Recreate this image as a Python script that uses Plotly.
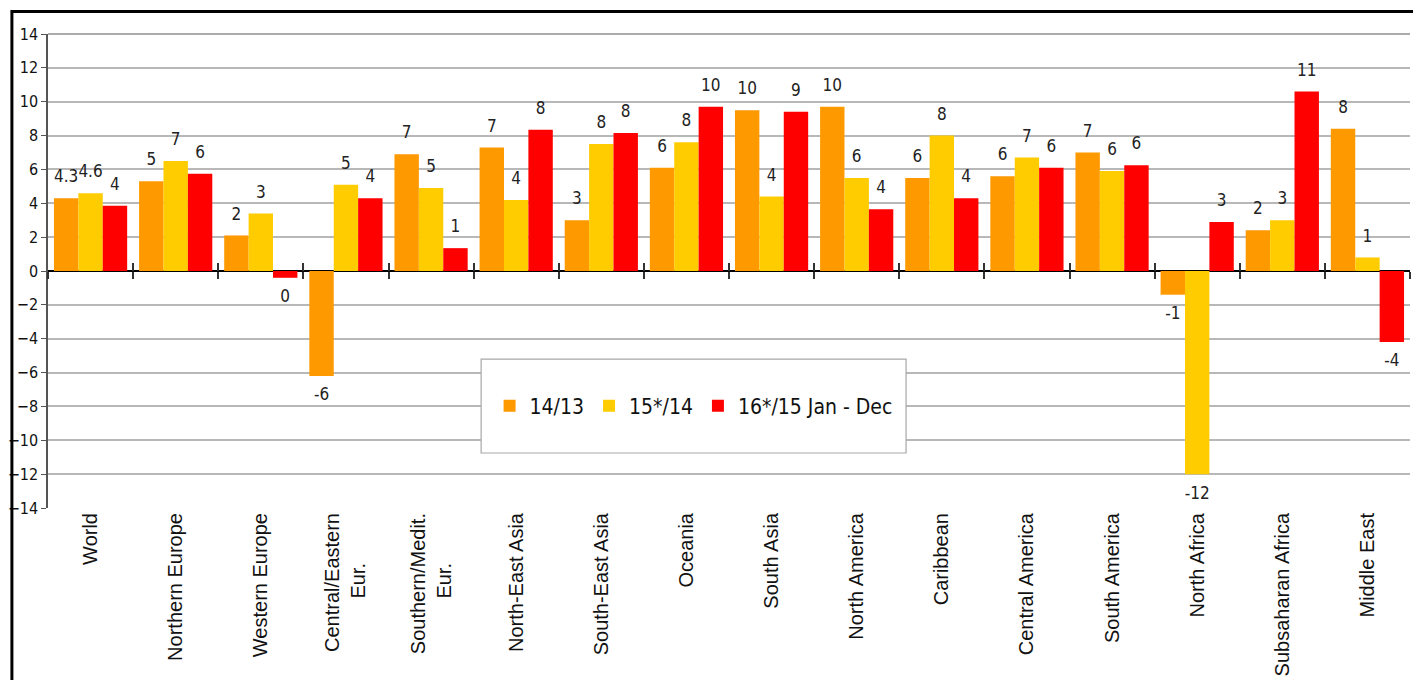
import plotly.graph_objects as go

PAD = "<span style='color:rgba(0,0,0,0)'>" + "." * 9 + "</span>"
categories = ["World", "Northern Europe", "Western Europe", "Central/Eastern<br>Eur." + PAD,
              "Southern/Medit.<br>Eur." + PAD, "North-East Asia", "South-East Asia", "Oceania",
              "South Asia", "North America", "Caribbean", "Central America",
              "South America", "North Africa", "Subsaharan Africa", "Middle East"]

series_names = ["14/13", "15*/14", "16*/15 Jan - Dec"]
series_colors = ["#FF9900", "#FFCC00", "#FF0000"]

s_14_13 = [4.3, 5.3, 2.1, -6.2, 6.9, 7.3, 3.0, 6.1, 9.5, 9.7, 5.5, 5.6, 7.0, -1.4, 2.4, 8.4]
s_15_14 = [4.6, 6.5, 3.4, 5.1, 4.9, 4.2, 7.5, 7.6, 4.4, 5.5, 8.0, 6.7, 5.9, -12.0, 3.0, 0.8]
s_16_15 = [3.85, 5.75, -0.4, 4.3, 1.35, 8.35, 8.15, 9.7, 9.4, 3.65, 4.3, 6.1, 6.25, 2.9, 10.6, -4.2]

lbl_14_13 = ["4.3", "5", "2", "-6", "7", "7", "3", "6", "10", "10", "6", "6", "7", "-1", "2", "8"]
lbl_15_14 = ["4.6", "7", "3", "5", "5", "4", "8", "8", "4", "6", "8", "7", "6", "-12", "3", "1"]
lbl_16_15 = ["4", "6", "0", "4", "1", "8", "8", "10", "9", "4", "4", "6", "6", "3", "11", "-4"]

y_ticks = list(range(-14, 15, 2))

NARROW = "Liberation Sans Narrow, DejaVu Sans Condensed, Arial Narrow, Liberation Sans, sans-serif"
REG = "Liberation Sans, Arial, sans-serif"

values = [s_14_13, s_15_14, s_16_15]
labels = [lbl_14_13, lbl_15_14, lbl_16_15]

fig = go.Figure()
for i in range(3):
    fig.add_trace(go.Bar(
        x=categories, y=values[i], name=series_names[i],
        marker=dict(color=series_colors[i], line=dict(width=0)),
        offsetgroup=str(i), alignmentgroup="a",
    ))
for i in range(3):
    fig.add_trace(go.Scatter(
        x=categories, y=values[i], text=labels[i], mode="markers+text",
        textposition=["top center" if v >= 0 else "bottom center" for v in values[i]],
        marker=dict(size=17, color="rgba(0,0,0,0)"),
        textfont=dict(family=NARROW, size=17, color="#222222"),
        offsetgroup=str(i), alignmentgroup="a",
        showlegend=False, hoverinfo="skip", cliponaxis=False,
    ))

# helper axes for the tick marks crossing the zero line
bounds = [k - 0.5 for k in range(len(categories) + 1)]
for ax in ("x2", "x3"):
    fig.add_trace(go.Scatter(x=[0], y=[0], xaxis=ax, yaxis="y", mode="markers",
                             marker=dict(opacity=0), showlegend=False, hoverinfo="skip"))

# page body has an 8px margin: figure is sized/offset to compensate
fig.update_layout(
    width=1413, height=672,
    margin=dict(l=40, r=11, t=26, b=172, autoexpand=False),
    paper_bgcolor="white", plot_bgcolor="white",
    barmode="group", bargap=0.14, bargroupgap=0,
    scattermode="group", scattergap=0.14,
    font=dict(family=REG, color="#111111"),
    showlegend=True,
    legend=dict(orientation="h", x=0.474, y=0.215, xanchor="center", yanchor="middle",
                font=dict(family=NARROW, size=21, color="#111111"),
                bgcolor="rgba(0,0,0,0)", borderwidth=0, itemwidth=30,
                traceorder="normal"),
    xaxis=dict(type="category", showgrid=False, showline=False, ticks="",
               tickangle=-90, tickfont=dict(family=REG, size=20, color="#111111"),
               range=[-0.5, 15.5], automargin=False),
    xaxis2=dict(overlaying="x", anchor="free", position=0.5, range=[-0.5, 15.5],
                tickvals=bounds, showticklabels=False, ticks="outside", ticklen=7,
                tickwidth=1.5, tickcolor="#333333", showgrid=False, showline=False,
                zeroline=False),
    xaxis3=dict(overlaying="x", anchor="free", position=0.5, range=[-0.5, 15.5],
                tickvals=bounds, showticklabels=False, ticks="inside", ticklen=8,
                tickwidth=1.5, tickcolor="#333333", showgrid=False, showline=False,
                zeroline=False),
    yaxis=dict(range=[-14, 14], tickvals=y_ticks, showgrid=True, gridcolor="#b8b8b8",
               gridwidth=1.5, zeroline=True, zerolinecolor="#000000", zerolinewidth=1.5,
               showline=True, linecolor="#555555", linewidth=1.5, ticks="outside",
               ticklen=5, tickcolor="#555555", automargin=False,
               tickfont=dict(family=NARROW, size=16, color="#111111")),
    shapes=[
        dict(type="rect", xref="paper", yref="paper", x0=0.318, x1=0.630, y0=0.116, y1=0.314,
             line=dict(color="#a8a8a8", width=1.2), fillcolor="white", layer="above"),
        dict(type="rect", xref="paper", yref="paper", x0=-0.0265, x1=1.0055, y0=-0.40, y1=1.0475,
             line=dict(color="#000000", width=3), fillcolor="rgba(0,0,0,0)", layer="above"),
        dict(type="line", xref="paper", yref="paper", x0=0, x1=1, y0=1, y1=1,
             line=dict(color="#909090", width=1.5), layer="below"),
    ],
)

fig.write_html("out.html")
